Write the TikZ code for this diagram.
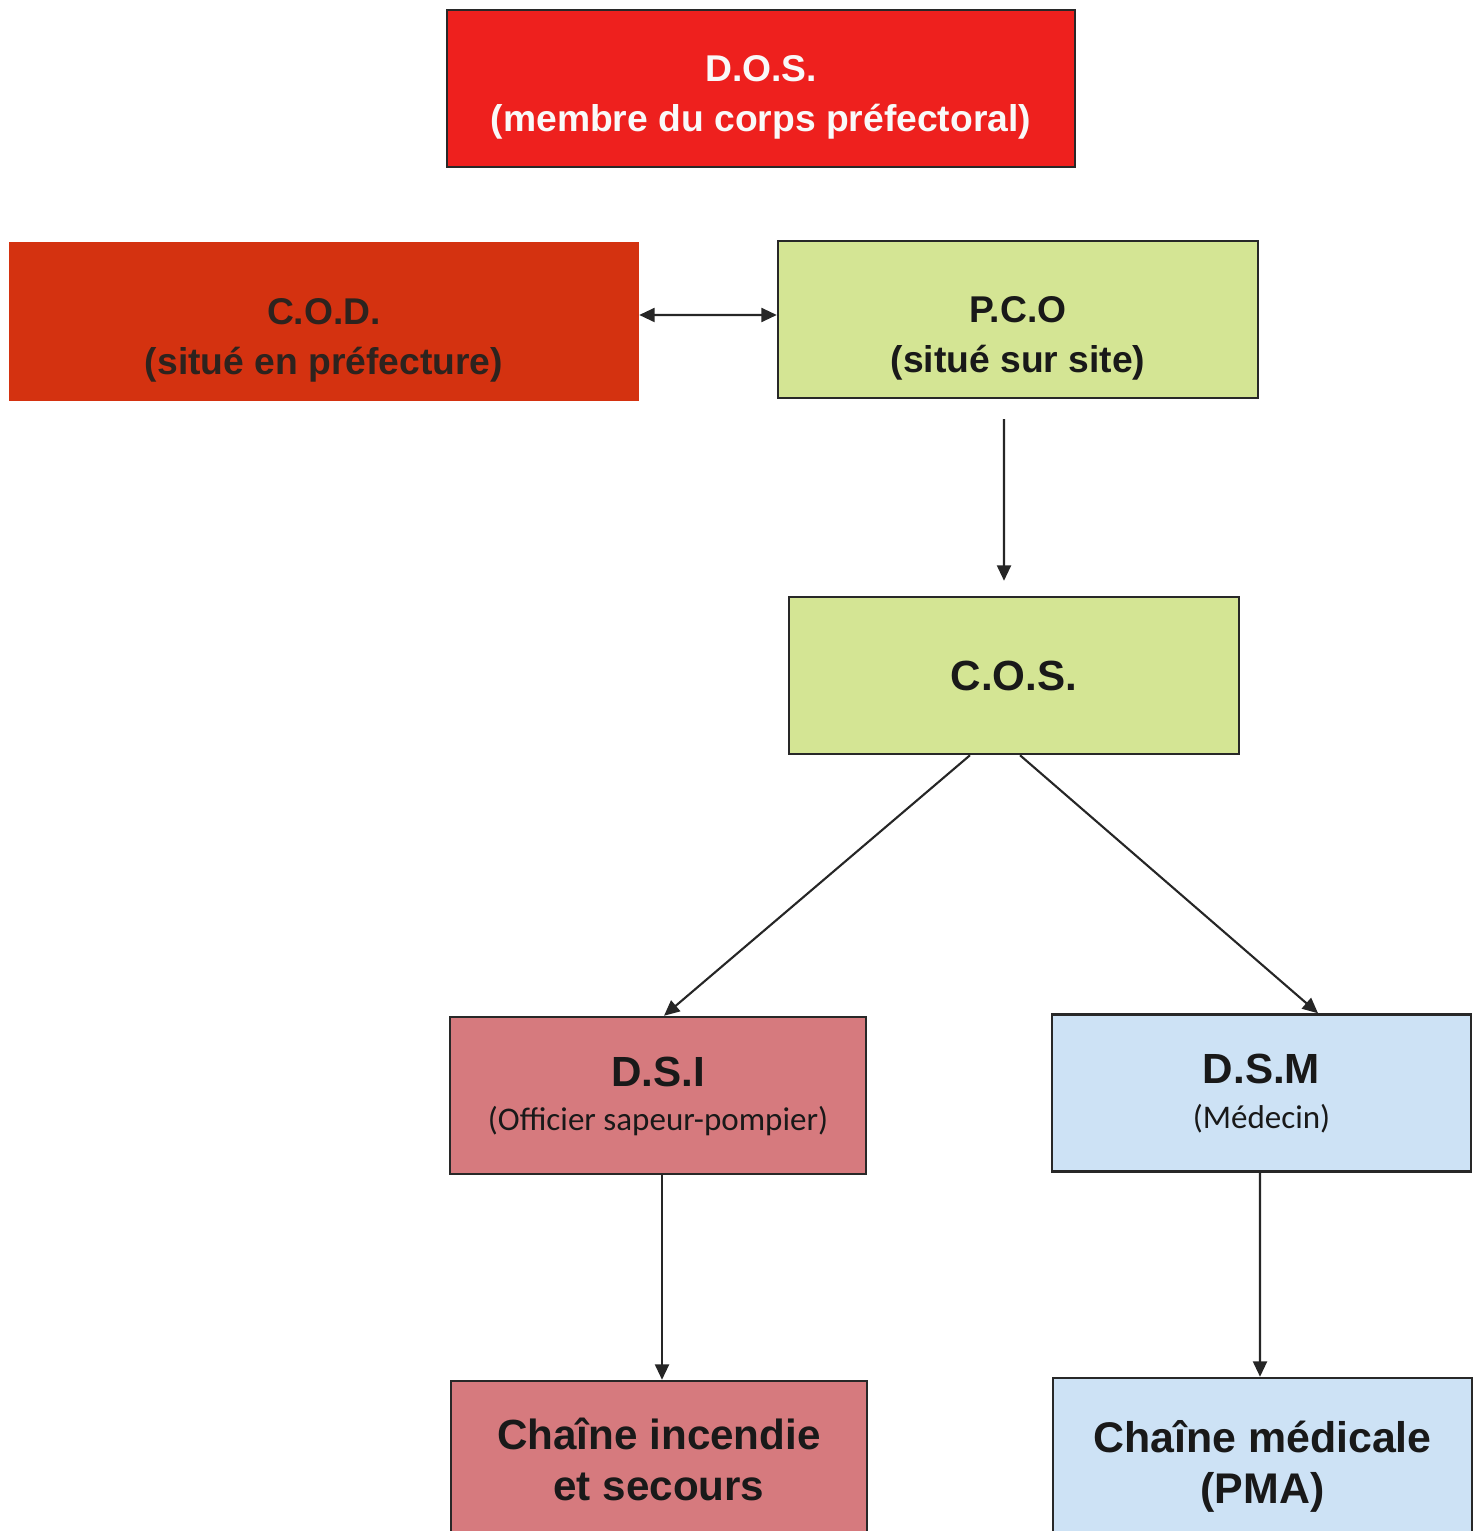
\documentclass[tikz,border=0pt]{standalone}
\usepackage{fontspec}
\setmainfont{Liberation Sans}
\newfontfamily\carlito{Carlito}
\usepackage{tikz}
\usetikzlibrary{arrows.meta, positioning, calc}

\definecolor{dosred}{RGB}{238, 32, 30}
\definecolor{codred}{RGB}{212, 50, 16}
\definecolor{codtext}{RGB}{45, 35, 30}
\definecolor{sitegreen}{RGB}{212, 229, 148}
\definecolor{firerose}{RGB}{214, 122, 126}
\definecolor{medblue}{RGB}{205, 226, 245}
\definecolor{framegray}{RGB}{40, 40, 40}

% text block drawn lower than the box centre
\newcommand{\lowertext}[2]{\raisebox{-#1}[\height][\depth]{\begin{tabular}{@{}c@{}}#2\end{tabular}}}
\newcommand{\roletext}[1]{{\carlito\mdseries\fontsize{9.4}{11}\selectfont #1}}

\begin{document}
\begin{tikzpicture}[
    box/.style={draw=framegray, line width=0.7pt, minimum height=1.57cm, align=center, inner sep=0pt, font=\fontsize{10.6}{14.2}\selectfont\bfseries},
    link/.style={line width=0.6pt, draw=black!85, -{Triangle[length=4.4pt, width=4pt]}}
  ]
  \useasboundingbox (0, 0) rectangle (14.81, -15.31);

  % D.O.S.
  \node[box, fill=dosred, text=white!95!gray, minimum width=6.28cm] (dos) at (7.61, -0.885)
    {\lowertext{0.08cm}{D.O.S.\\(membre du corps préfectoral)}};

  % C.O.D. and P.C.O
  \node[box, draw=codred, fill=codred, text=codtext, minimum width=6.28cm] (cod) at (3.24, -3.215)
    {\lowertext{0.18cm}{C.O.D.\\(situé en préfecture)}};
  \node[box, fill=sitegreen, text=black!90, minimum width=4.80cm] (pco) at (10.18, -3.195)
    {\lowertext{0.18cm}{P.C.O\\(situé sur site)}};

  % C.O.S.
  \node[box, fill=sitegreen, text=black!90, minimum width=4.50cm, font=\fontsize{12}{14.5}\selectfont\bfseries] (cos) at (10.14, -6.755) {C.O.S.};

  % D.S.I and D.S.M
  \node[box, fill=firerose, text=black!90, minimum width=4.16cm, font=\fontsize{12}{12.8}\selectfont\bfseries] (dsi) at (6.58, -10.955)
    {\lowertext{0.04cm}{D.S.I\\\roletext{(Officier sapeur-pompier)}}};
  \node[box, fill=medblue, text=black!90, minimum width=4.19cm, font=\fontsize{12}{12.8}\selectfont\bfseries] (dsm) at (12.615, -10.93)
    {\lowertext{0.04cm}{D.S.M\\\roletext{(Médecin)}}};

  % Chaines
  \node[box, fill=firerose, text=black!90, minimum width=4.16cm, font=\fontsize{12}{14.6}\selectfont\bfseries] (incendie) at (6.59, -14.595)
    {\lowertext{0.05cm}{Chaîne incendie\\et secours}};
  \node[box, fill=medblue, text=black!90, minimum width=4.19cm, font=\fontsize{12.2}{14.6}\selectfont\bfseries] (medicale) at (12.625, -14.565)
    {\lowertext{0.11cm}{Chaîne médicale\\(PMA)}};

  % connectors
  \draw[link, {Triangle[length=4.4pt, width=4pt]}-{Triangle[length=4.4pt, width=4pt]}] ([yshift=0.065cm]cod.east) -- ([yshift=0.045cm]pco.west);
  \draw[link] ([shift={(-0.14,-0.20)}]pco.south) -- ([shift={(-0.10,0.15)}]cos.north);
  \draw[link] ([xshift=-0.44cm]cos.south) -- ([xshift=0.06cm]dsi.north);
  \draw[link] ([xshift=0.06cm]cos.south) -- ([xshift=0.565cm]dsm.north);
  \draw[link] ([xshift=0.04cm]dsi.south) -- ([xshift=0.03cm]incendie.north);
  \draw[link] ([xshift=-0.015cm]dsm.south) -- ([xshift=-0.025cm]medicale.north);
\end{tikzpicture}
\end{document}
